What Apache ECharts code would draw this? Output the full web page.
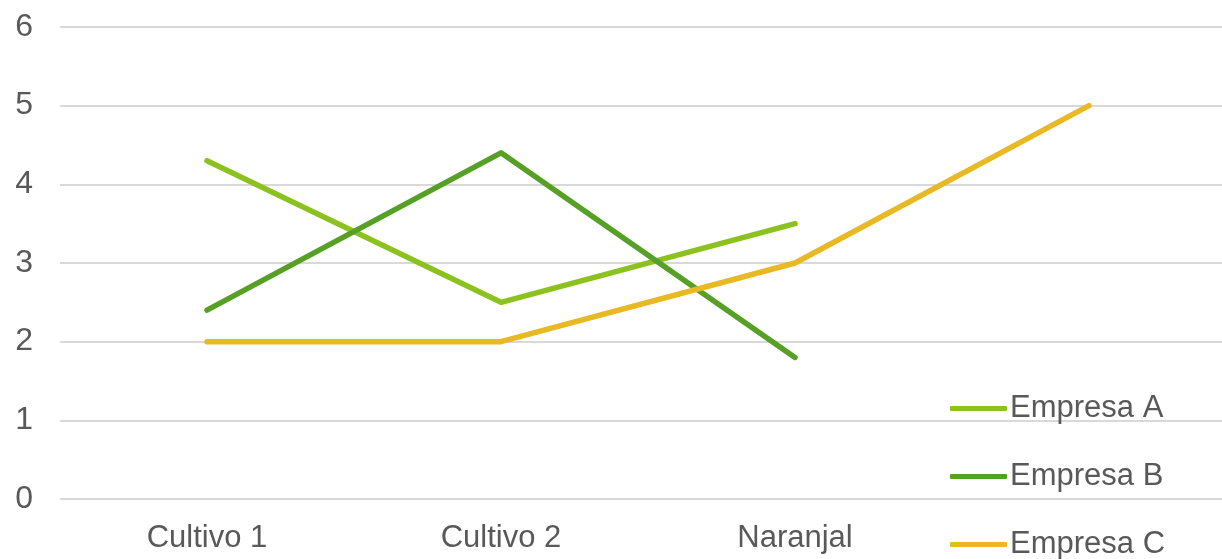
<!DOCTYPE html>
<html>
<head>
<meta charset="utf-8">
<script src="https://cdn.jsdelivr.net/npm/echarts@6/dist/echarts.min.js"></script>
<style>
html,body{margin:0;padding:0;background:#fff;}
#chart{width:1222px;height:559px;}
</style>
</head>
<body>
<div id="chart"></div>
<script>
var categories = ['Cultivo 1', 'Cultivo 2', 'Naranjal', ''];
var empresaA = [4.3, 2.5, 3.5, null];
var empresaB = [2.4, 4.4, 1.8, null];
var empresaC = [2, 2, 3, 5];
var yTicks = [0, 1, 2, 3, 4, 5, 6];

var chart = echarts.init(document.getElementById('chart'), null, {renderer: 'canvas'});
var font = 'Liberation Sans, Arial, sans-serif';
function mk(name, data, color) {
  return {
    name: name, type: 'line', data: data, symbol: 'none', showSymbol: false,
    lineStyle: {width: 5.5, color: color, cap: 'round', join: 'round'},
    itemStyle: {color: color},
    emphasis: {disabled: true}, animation: false
  };
}
chart.setOption({
  animation: false,
  grid: {left: 60, right: -14, top: 27, bottom: 60, containLabel: false, outerBoundsMode: 'none'},
  xAxis: {
    type: 'category', data: categories, boundaryGap: true,
    axisLine: {show: false}, axisTick: {show: false},
    axisLabel: {color: '#595959', fontSize: 31, fontFamily: font, margin: 24}
  },
  yAxis: {
    type: 'value', min: yTicks[0], max: yTicks[yTicks.length - 1], interval: 1,
    axisLine: {show: false}, axisTick: {show: false},
    axisLabel: {color: '#595959', fontSize: 32, fontFamily: font, margin: 27, padding: [4, 0, 0, 0]},
    splitLine: {lineStyle: {color: '#d9d9d9', width: 2}}
  },
  legend: {
    orient: 'vertical', left: 945, top: 388, height: 300, width: 300, itemGap: 37,
    icon: 'roundRect', itemWidth: 57, itemHeight: 5,
    textStyle: {color: '#595959', fontSize: 31, fontFamily: font, padding: [0, 0, 0, -2]},
    data: ['Empresa A', 'Empresa B', 'Empresa C']
  },
  series: [
    mk('Empresa A', empresaA, '#8cc220'),
    mk('Empresa B', empresaB, '#56a125'),
    mk('Empresa C', empresaC, '#e8b923')
  ]
});
</script>
</body>
</html>
